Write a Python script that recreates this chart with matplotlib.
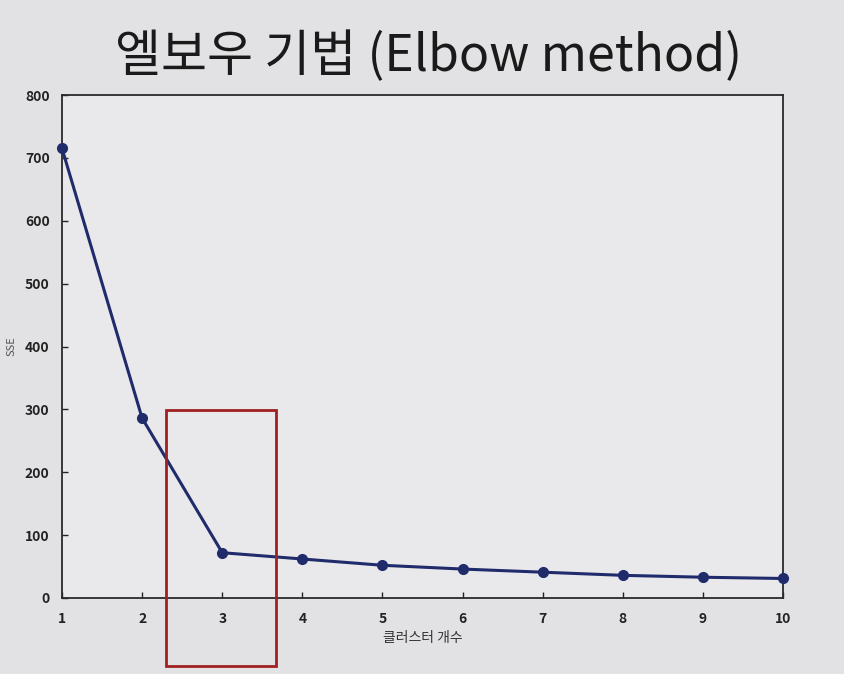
import matplotlib
matplotlib.use("Agg")
import matplotlib.pyplot as plt
from matplotlib.patches import Rectangle

plt.rcParams['font.family'] = ['Noto Sans CJK KR', 'DejaVu Sans']

clusters = [1, 2, 3, 4, 5, 6, 7, 8, 9, 10]
sse = [715, 286, 72, 62, 52, 46, 41, 36, 33, 31]
yticks = [0, 100, 200, 300, 400, 500, 600, 700, 800]
title = "엘보우 기법 (Elbow method)"
xlabel = "클러스터 개수"
ylabel = "SSE"
highlight_x = (2.3, 3.67)
highlight_y = (-109, 299)

fig = plt.figure(figsize=(8.45, 6.74), dpi=100)
fig.patch.set_facecolor('#e2e2e4')
ax = fig.add_axes([0.0734, 0.1128, 0.8532, 0.7462])
ax.set_facecolor('#e9e9eb')

ax.plot(clusters, sse, color='#1f2b6b', lw=2.2, marker='o', ms=7,
        markerfacecolor='#1f2b6b', markeredgecolor='#1f2b6b', clip_on=False, zorder=3)

ax.set_xlim(1, 10)
ax.set_ylim(0, 800)
ax.set_xticks(clusters)
ax.set_yticks(yticks)
ax.tick_params(direction='in', length=4, width=1, colors='#222222', labelsize=10,
               top=False, right=False)
ax.tick_params(axis='y', pad=9)
ax.tick_params(axis='x', pad=10)
for lab in ax.get_xticklabels() + ax.get_yticklabels():
    lab.set_fontweight('bold')
for s in ax.spines.values():
    s.set_color('#2a2a2a')
    s.set_linewidth(1.3)

ax.set_xlabel(xlabel, fontsize=10, color='#333333', labelpad=4)
ax.set_ylabel(ylabel, fontsize=8, color='#555555', labelpad=6)

fig.text(0.507, 0.915, title, ha='center', va='center', fontsize=36, color='#1a1a1a')

rect = Rectangle((highlight_x[0], highlight_y[0]), highlight_x[1] - highlight_x[0],
                 highlight_y[1] - highlight_y[0], fill=False, edgecolor='#a02020',
                 lw=2, clip_on=False, zorder=4)
ax.add_patch(rect)

fig.savefig("out.png", dpi=100, facecolor=fig.get_facecolor())
